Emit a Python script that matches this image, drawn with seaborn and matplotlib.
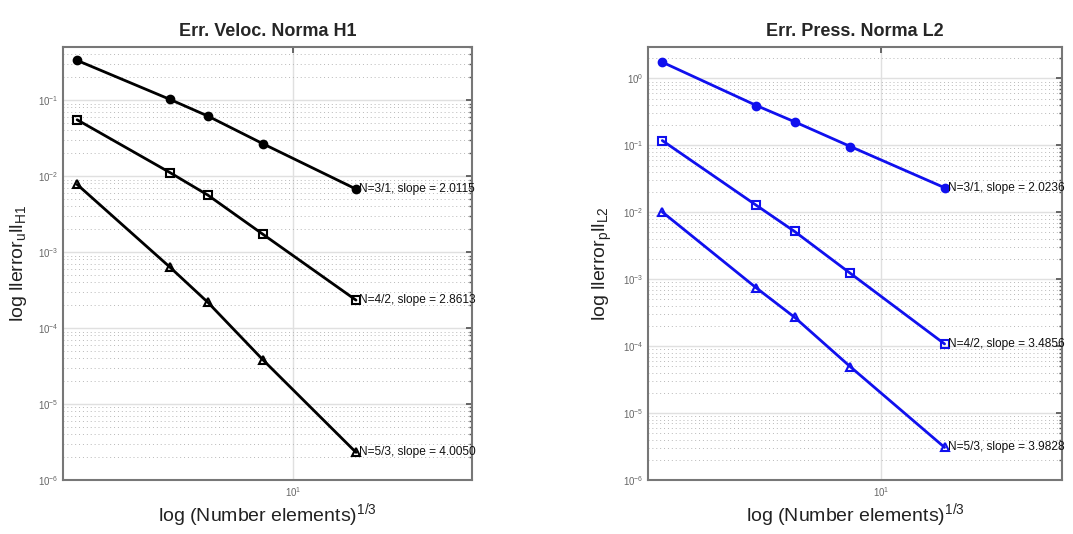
import matplotlib
matplotlib.use("Agg")
import matplotlib.pyplot as plt
import matplotlib.ticker as mticker
import seaborn as sns
import pandas as pd
import numpy as np

sns.set_theme(style="white")
plt.rcParams['font.family'] = ['Liberation Sans', 'DejaVu Sans']
plt.rcParams['mathtext.fontset'] = 'custom'
plt.rcParams['mathtext.rm'] = 'Liberation Sans'
plt.rcParams['mathtext.it'] = 'Liberation Sans'

# x values: (Number elements)^(1/3)
x_vals = [2.0, 4.0, 5.3, 8.0, 16.0]

# Velocity error, H1 norm
vel_n31 = [0.333, 0.102, 0.0617, 0.0266, 0.00675]
vel_n42 = [0.0551, 0.0111, 0.00562, 0.00171, 0.000233]
vel_n53 = [0.00776, 0.00063, 0.000218, 0.000038, 0.00000231]
vel_labels = ["N=3/1, slope = 2.0115", "N=4/2, slope = 2.8613", "N=5/3, slope = 4.0050"]

# Pressure error, L2 norm
pre_n31 = [1.75, 0.394, 0.225, 0.096, 0.0233]
pre_n42 = [0.118, 0.0127, 0.00517, 0.00122, 0.000108]
pre_n53 = [0.0101, 0.00074, 0.00027, 0.000049, 0.00000307]
pre_labels = ["N=3/1, slope = 2.0236", "N=4/2, slope = 3.4856", "N=5/3, slope = 3.9828"]

markers = ['o', 's', '^']
fills = [True, False, False]

fig = plt.figure(figsize=(10.73, 5.34), dpi=100)
ax1 = fig.add_axes([63/1073, 54/534, 409/1073, 433/534])
ax2 = fig.add_axes([648/1073, 54/534, 414/1073, 433/534])


def draw(ax, series, labels, color, ylim, title, ylabel):
    for ys, lab, mk, fl in zip(series, labels, markers, fills):
        df = pd.DataFrame({"x": x_vals, "y": ys})
        sns.lineplot(data=df, x="x", y="y", ax=ax, color=color, lw=2,
                     marker=mk, markersize=5.5 if fl else 6,
                     markerfacecolor=color if fl else 'none',
                     markeredgecolor=color, markeredgewidth=1.5)
        ax.annotate(lab, (x_vals[-1], ys[-1]), xytext=(2.5, 0),
                    textcoords='offset points', va='center', ha='left',
                    fontsize=8.6, color='#111111', annotation_clip=False)
    ax.set_xscale('log')
    ax.set_yscale('log')
    ax.set_xlim(1.8, 38)
    ax.set_ylim(*ylim)
    ax.xaxis.set_major_locator(mticker.FixedLocator([10]))
    ax.xaxis.set_minor_locator(mticker.NullLocator())
    ax.yaxis.set_major_locator(mticker.LogLocator(base=10, numticks=20))
    ax.yaxis.set_minor_locator(mticker.LogLocator(base=10, subs=np.arange(2, 10), numticks=20))
    ax.yaxis.set_minor_formatter(mticker.NullFormatter())
    ax.grid(True, which='major', axis='both', color='#e0e0e0', lw=1.0, ls='-')
    ax.grid(True, which='minor', axis='y', color='#b8b8b8', lw=0.7, ls=(0, (1, 3)))
    ax.set_axisbelow(True)
    ax.tick_params(axis='both', which='both', direction='in', top=True, right=True,
                   colors='#555555', labelsize=7, labelcolor='#666666')
    ax.tick_params(which='major', length=4)
    ax.tick_params(which='minor', length=2)
    for s in ax.spines.values():
        s.set_color('#777777')
        s.set_linewidth(1.5)
    ax.set_title(title, fontsize=13, fontweight='bold', pad=8)
    ax.set_xlabel(r"log (Number elements)$^{1/3}$", fontsize=14, color='#222222', labelpad=2)
    ax.set_ylabel(ylabel, fontsize=14, color='#222222', labelpad=6)


draw(ax1, [vel_n31, vel_n42, vel_n53], vel_labels, 'black', (1e-6, 0.5),
     "Err. Veloc. Norma H1", r"log llerror$_{\rm u}$ll$_{\rm H1}$")
draw(ax2, [pre_n31, pre_n42, pre_n53], pre_labels, '#1010ee', (1e-6, 2.95),
     "Err. Press. Norma L2", r"log llerror$_{\rm p}$ll$_{\rm L2}$")

fig.savefig("out.png", dpi=100, facecolor='white')
